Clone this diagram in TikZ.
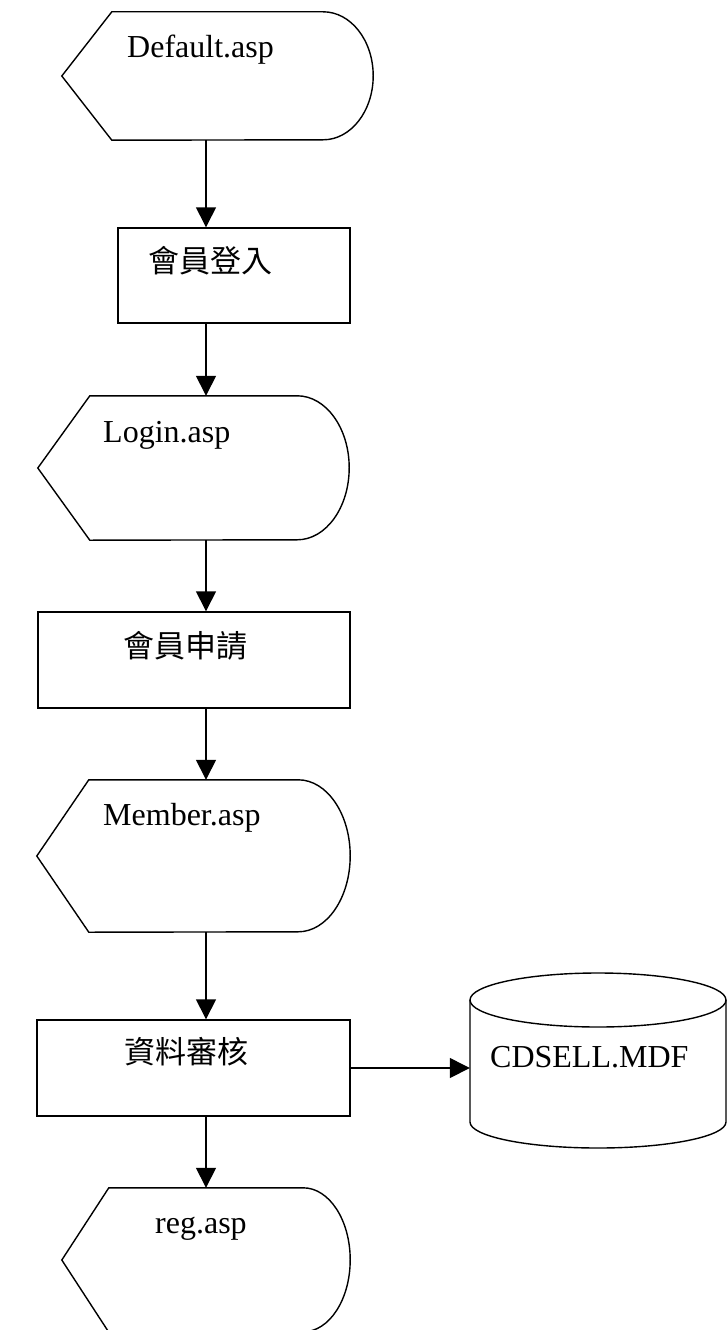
\documentclass[tikz,border=0pt]{standalone}
\usepackage{fontspec}
\setmainfont{Liberation Serif}
\newfontfamily\cjk{Noto Sans CJK TC}
\usetikzlibrary{arrows.meta}

\tikzset{
  flow/.style={line width=1.4pt, -{Triangle[length=20pt,width=20pt]}},
  stepbox/.style={draw, line width=1.4pt, inner sep=0pt},
  dispframe/.style={inner sep=0pt},
  aspname/.style={anchor=base west, inner sep=0pt, font=\fontsize{32}{38}\selectfont},
  taskname/.style={anchor=west, inner sep=0pt, font=\cjk\fontsize{31}{37}\selectfont},
}

% display symbol round a named frame: name, half height, round part
\newcommand\dispshape[3]{%
  \draw[line width=1.4pt] (#1.west) -- ([xshift=#3]#1.north west) -- ([xshift=-#3]#1.north east)
    arc[start angle=90, end angle=-90, x radius=#3, y radius=#2]
    -- ([xshift=#3]#1.south west) -- cycle;}

\begin{document}
\begin{tikzpicture}[x=1pt, y=-1pt]
\useasboundingbox (0,0) rectangle (726,1330);

% Default.asp
\node[dispframe, minimum width=311pt, minimum height=128pt] (dflt) at (217.5,76) {};
\dispshape{dflt}{64pt}{50pt}
\node[aspname] (dflt-t) at (127,58) {Default.asp};

% login
\node[stepbox, minimum width=232pt, minimum height=95pt] (signin) at (234,275.5) {};
\node[taskname] (signin-t) at (148,261) {會員登入};
\node[dispframe, minimum width=311pt, minimum height=144pt] (loginasp) at (193.5,468) {};
\dispshape{loginasp}{72pt}{52pt}
\node[aspname] (loginasp-t) at (103,442) {Login.asp};

% apply
\node[stepbox, minimum width=312pt, minimum height=96pt] (apply) at (194,660) {};
\node[taskname] (apply-t) at (123,646) {會員申請};
\node[dispframe, minimum width=313pt, minimum height=152pt] (memberasp) at (193.5,856) {};
\dispshape{memberasp}{76pt}{52pt}
\node[aspname] (memberasp-t) at (103,825) {Member.asp};

% check + database
\node[stepbox, minimum width=313pt, minimum height=96pt] (check) at (193.5,1068) {};
\node[taskname] (check-t) at (124,1052) {資料審核};
\node[dispframe, minimum width=288pt, minimum height=144pt] (regasp) at (206,1260) {};
\dispshape{regasp}{72pt}{47pt}
\node[aspname] (regasp-t) at (155,1233) {reg.asp};

\node[dispframe, minimum width=256pt, minimum height=174pt] (db) at (598,1068) {};
\draw[line width=1.4pt] (470,1000) -- (470,1122)
  arc[start angle=180, end angle=360, x radius=128pt, y radius=26pt] -- (726,1000);
\draw[line width=1.4pt] (598,1000) ellipse [x radius=128pt, y radius=27pt];
\node[aspname] (db-t) at (490,1067) {CDSELL.MDF};

% connectors
\coordinate (spine) at (206,0);
\draw[flow] (dflt.south -| spine) -- (signin.north -| spine);
\draw[flow] (signin.south -| spine) -- (loginasp.north -| spine);
\draw[flow] (loginasp.south -| spine) -- (apply.north -| spine);
\draw[flow] (apply.south -| spine) -- (memberasp.north -| spine);
\draw[flow] (memberasp.south -| spine) -- (check.north -| spine);
\draw[flow] (check.south -| spine) -- (regasp.north -| spine);
\draw[flow] (check.east) -- (check.east -| db.west);

\end{tikzpicture}
\end{document}
